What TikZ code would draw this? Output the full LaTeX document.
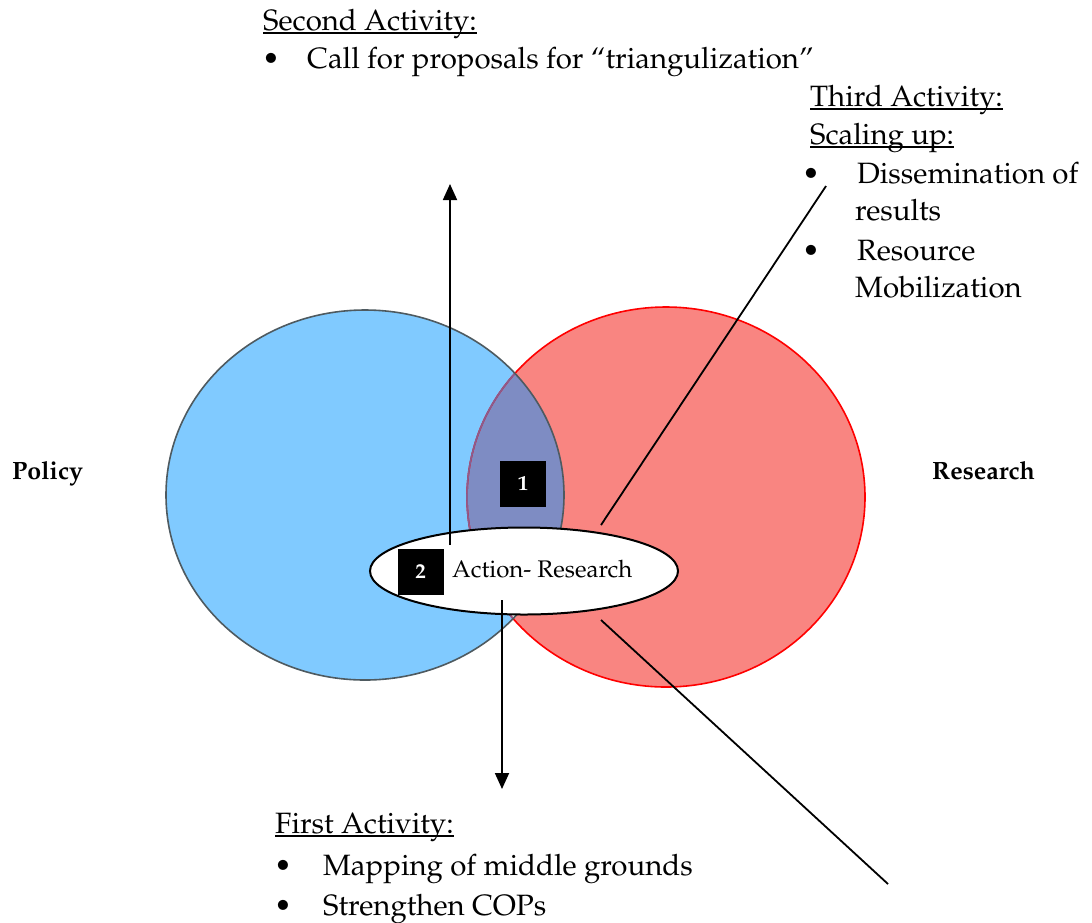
\documentclass[tikz,border=0pt]{standalone}
\usepackage[T1]{fontenc}
\usepackage{mathpazo}
\usetikzlibrary{arrows.meta,shapes.geometric}

\definecolor{polblue}{HTML}{80CAFF}
\definecolor{poledge}{HTML}{4E5A60}
\definecolor{resred}{HTML}{F98581}
\definecolor{resedge}{HTML}{FF0000}
\definecolor{lensfill}{HTML}{7E8CC3}
\definecolor{lensedge}{HTML}{8A5C8E}

% underline that sits just under the baseline
\newcommand{\ulword}[1]{\setbox0\hbox{#1}\rlap{\rule[-3.5pt]{\wd0}{1.4pt}}\box0}

\tikzset{
  body/.style={inner sep=0pt, anchor=base west, font=\fontsize{29.4}{33}\selectfont},
  side/.style={inner sep=0pt, anchor=base west, font=\fontsize{25}{29}\selectfont\bfseries},
  tag/.style={fill=black, text=white, minimum size=46pt, inner sep=0pt,
              font=\fontsize{21}{25}\selectfont\bfseries},
  link/.style={line width=1.8pt},
  uparrow/.style={link, -{Triangle[width=14pt,length=16pt]}},
}

\begin{document}
\begin{tikzpicture}[x=1pt,y=-1pt]
\useasboundingbox (0,0) rectangle (1092,922);

\coordinate (pc) at (365,495);
\coordinate (rc) at (666,497);

% the two circles
\fill[polblue] (pc) ellipse [x radius=199, y radius=185];
\fill[resred] (rc) ellipse [x radius=199, y radius=190];

% overlap
\begin{scope}
  \clip (pc) ellipse [x radius=199, y radius=185];
  \fill[lensfill] (rc) ellipse [x radius=199, y radius=190];
  \clip (rc) ellipse [x radius=199, y radius=190];
  \fill[white] (300,600) rectangle (700,700);
\end{scope}

\draw[resedge, line width=1.6pt] (rc) ellipse [x radius=199, y radius=190];
\begin{scope}
  \clip (pc) ellipse [x radius=199, y radius=185];
  \draw[lensedge, line width=1.6pt] (rc) ellipse [x radius=199, y radius=190];
\end{scope}
\draw[poledge, line width=1.6pt] (pc) ellipse [x radius=199, y radius=185];

% central ellipse
\node[ellipse, draw=black, fill=white, line width=2pt, inner sep=0pt,
      minimum width=308pt, minimum height=87pt] (ar) at (524,571) {};
\node[inner sep=0pt, anchor=base west, font=\fontsize{24}{28}\selectfont] (artext) at (452,577) {Action- Research};

\node[tag] (t1) at (523,484) {1};
\node[tag] (t2) at (420.5,572) {2};

% side labels
\node[side] (policy) at (12,479) {Policy};
\node[side] (research) at (932,479) {Research};

% connectors
\coordinate (upfoot) at (450,545);
\coordinate (uptip) at (450,184);
\coordinate (downfoot) at (502,600);
\coordinate (downtip) at (502,789);
\coordinate (diagA1) at (601,525);
\coordinate (diagA2) at (826,186);
\coordinate (diagB1) at (601,620);
\coordinate (diagB2) at (888,884);

\draw[uparrow] (upfoot) -- (uptip);
\draw[uparrow] (downfoot) -- (downtip);
\draw[link] (diagA1) -- (diagA2);
\draw[link] (diagB1) -- (diagB2);

% second activity
\node[body] (s0) at (263,30) {\ulword{Second Activity:}};
\node[body] (s1) at (262,68) {\makebox[45pt][l]{\textbullet}Call for proposals for ``triangulization''};

% third activity
\node[body] (h0) at (810,106) {\ulword{Third Activity:}};
\node[body] (h1) at (810,144) {\ulword{Scaling up:}};
\node[body] (h2) at (802,183) {\makebox[55pt][l]{\textbullet}Dissemination of};
\node[body] (h3) at (855,220) {results};
\node[body] (h4) at (802,260) {\makebox[55pt][l]{\textbullet}Resource};
\node[body] (h5) at (855,297) {Mobilization};

% first activity
\node[body] (f0) at (275,833) {\ulword{First Activity:}};
\node[body] (f1) at (274,875) {\makebox[49pt][l]{\textbullet}Mapping of middle grounds};
\node[body] (f2) at (274,915) {\makebox[49pt][l]{\textbullet}Strengthen COPs};
\end{tikzpicture}
\end{document}
